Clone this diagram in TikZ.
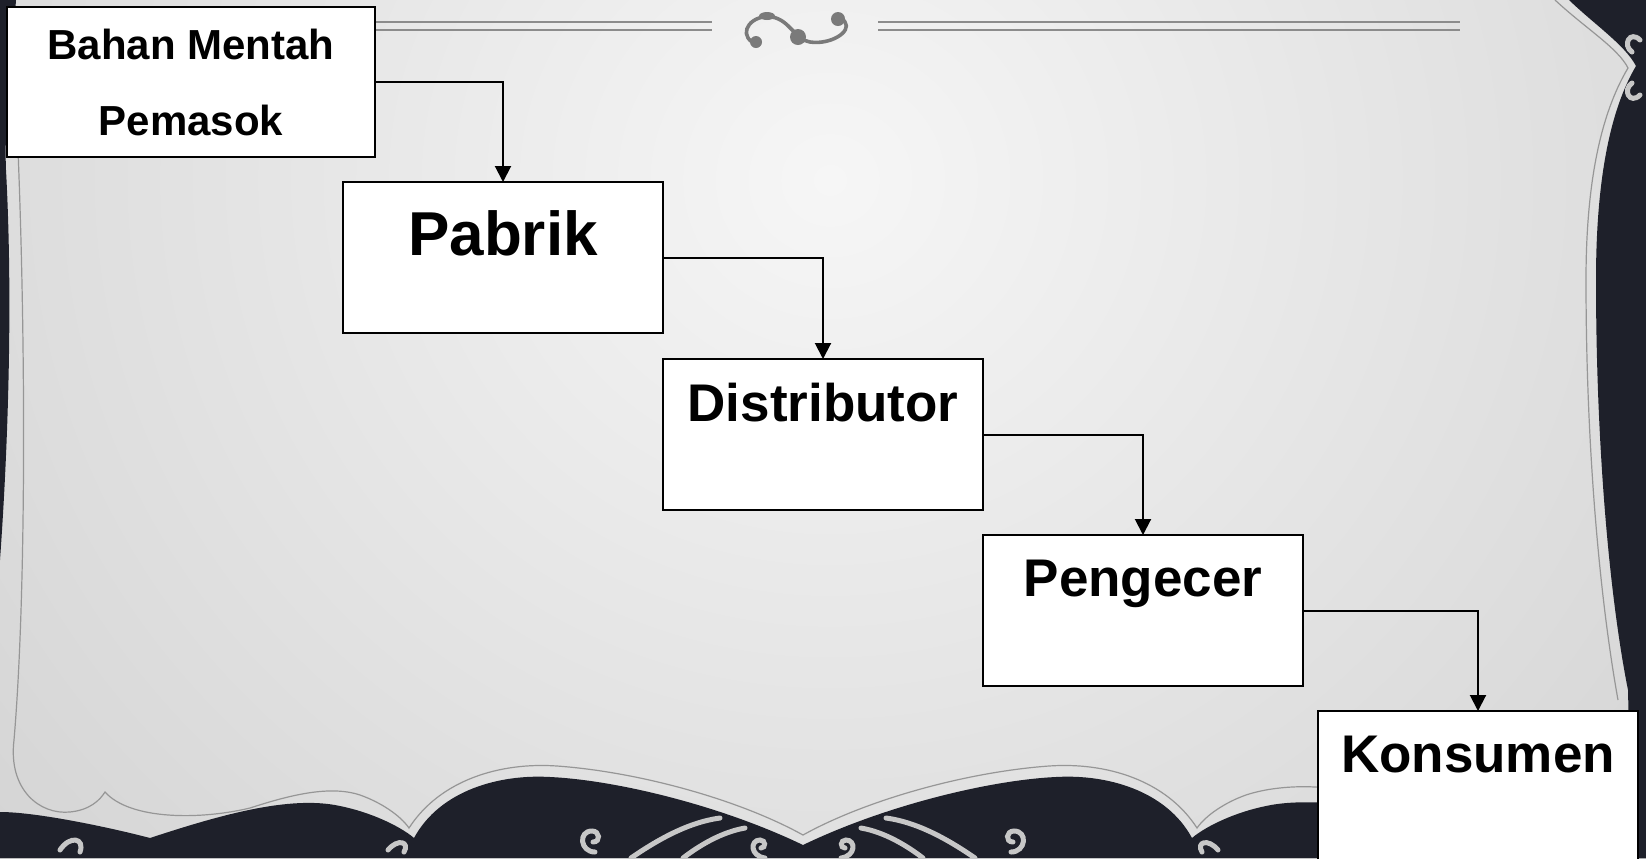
\documentclass[tikz,border=0pt]{standalone}
\usepackage{fontspec}
\setmainfont{Liberation Sans}
\usetikzlibrary{positioning}
\usetikzlibrary{arrows.meta}
\definecolor{framedark}{RGB}{30,32,42}
\definecolor{framegray}{RGB}{150,150,150}
\definecolor{bglight}{RGB}{246,246,246}
\definecolor{bgdark}{RGB}{194,194,194}
\tikzstyle{chainbox} = [draw=black, fill=white, line width=1.25pt, outer sep=0pt,
inner sep=0pt, minimum width=160pt, minimum height=75.5pt, align=center,
text depth=0pt, font={\bfseries\fontsize{26.5}{31.8}\selectfont}]
\tikzstyle{chainflow} = [line width=1pt, -{Triangle[width=8pt,length=8pt]}]
\tikzstyle{frameline} = [draw=framegray, line width=0.6pt]
\tikzstyle{frameorn} = [draw=white!78!black, line width=2.5pt, line cap=round]
\tikzstyle{topline} = [draw=black!45, line width=0.6pt]
\tikzstyle{topcurl} = [draw=black!52, line width=1.8pt, line cap=round]

\begin{document}
\begin{tikzpicture}[x=0.5pt, y=-0.5pt]
  \useasboundingbox (0,0) rectangle (1646,858);
  \begin{scope}
    \clip (0,0) rectangle (1646,858);
    \fill[bgdark] (0,0) rectangle (1646,858);
    \shade[inner color=bglight, outer color=bgdark] (830,180) ellipse [x radius=1700, y radius=1600];
  \end{scope}

  \fill[framedark] (0,0) -- (16,0) .. controls (12,60) and (4,120) .. (6,170)
    .. controls (12,280) and (10,420) .. (0,560) -- cycle;
  \fill[framedark] (1646,0) -- (1569,0) .. controls (1595,25) and (1625,45) .. (1636,66)
    .. controls (1610,110) and (1596,180) .. (1596,280)
    .. controls (1596,450) and (1610,600) .. (1628,690) -- (1632,858) -- (1646,858) -- cycle;
  \fill[framedark] (0,858) -- (0,812) .. controls (40,812) and (120,830) .. (150,838)
    .. controls (220,815) and (290,795) .. (340,806) .. controls (370,812) and (400,826) .. (414,838)
    .. controls (440,790) and (500,774) .. (550,777) .. controls (615,780) and (720,805) .. (803,845)
    .. controls (886,805) and (991,780) .. (1056,777) .. controls (1106,774) and (1166,790) .. (1192,838)
    .. controls (1206,826) and (1236,812) .. (1266,806) .. controls (1316,795) and (1400,810) .. (1460,830)
    -- (1646,830) -- (1646,858) -- cycle;
  \draw[frameline] (18,150) .. controls (26,350) and (26,600) .. (14,740)
    .. controls (8,790) and (40,815) .. (70,812) .. controls (90,810) and (100,800) .. (105,792)
    .. controls (130,820) and (200,820) .. (250,808) .. controls (290,795) and (330,785) .. (360,795)
    .. controls (380,802) and (400,815) .. (409,828) .. controls (440,780) and (500,762) .. (557,766)
    .. controls (640,772) and (740,800) .. (803,835) .. controls (866,800) and (966,772) .. (1049,766)
    .. controls (1106,762) and (1166,780) .. (1197,828) .. controls (1206,815) and (1226,802) .. (1246,795)
    .. controls (1276,785) and (1316,785) .. (1340,790);
  \draw[frameline] (1555,0) .. controls (1585,28) and (1618,48) .. (1628,68)
    .. controls (1600,115) and (1586,185) .. (1586,280)
    .. controls (1586,450) and (1600,600) .. (1618,700);
  \draw[frameorn] (631,858) .. controls (660,838) and (690,822) .. (720,818);
  \draw[frameorn] (683,858) .. controls (700,845) and (722,832) .. (745,828);
  \draw[frameorn] (975,858) .. controls (946,838) and (916,822) .. (886,818);
  \draw[frameorn] (923,858) .. controls (906,845) and (884,832) .. (861,828);
  \draw[frameorn] (595,852) .. controls (580,852) and (578,831) .. (592,831) .. controls (600,831) and (601,842) .. (593,842);
  \draw[frameorn] (1011,852) .. controls (1026,852) and (1028,831) .. (1014,831) .. controls (1006,831) and (1005,842) .. (1013,842);
  \draw[frameorn] (765,858) .. controls (750,856) and (750,840) .. (760,840) .. controls (766,840) and (766,848) .. (761,848);
  \draw[frameorn] (841,858) .. controls (856,856) and (856,840) .. (846,840) .. controls (840,840) and (840,848) .. (845,848);
  \draw[frameorn] (388,850) .. controls (398,838) and (410,842) .. (404,852);
  \draw[frameorn] (1218,850) .. controls (1208,838) and (1196,842) .. (1202,852);
  \draw[frameorn] (60,850) .. controls (70,835) and (85,838) .. (80,852);
  \draw[frameorn] (1640,40) .. controls (1630,30) and (1622,45) .. (1632,52);
  \draw[frameorn] (1640,95) .. controls (1630,105) and (1622,90) .. (1632,83);

  \draw[topline] (375,22) -- (712,22) (375,30) -- (712,30);
  \draw[topline] (878,22) -- (1460,22) (878,30) -- (1460,30);
  \draw[topcurl] (772,17) .. controls (752,14) and (738,32) .. (752,42);
  \draw[topcurl] (772,17) .. controls (790,20) and (795,40) .. (810,42)
    .. controls (830,45) and (852,32) .. (845,22) .. controls (842,17) and (838,16) .. (836,18);
  \fill[black!52] (756,42) circle[radius=3pt] (838,19) circle[radius=3.5pt]
    (798,37) circle[radius=4pt] (767,16) ellipse[x radius=8, y radius=4];

  \node[chainbox, minimum width=184pt, minimum height=75pt,
    font={\bfseries\fontsize{21}{38}\selectfont}] (bahan) at (191,82) {Bahan Mentah\\Pemasok};
  \node[chainbox, font={\bfseries\fontsize{31}{24.6}\selectfont},
    below right=12.5pt and -16pt of bahan] (pabrik) {Pabrik\\~};
  \node[chainbox, below right=13pt and 0pt of pabrik] (distributor) {Distributor\\~};
  \node[chainbox, below right=12.5pt and 0pt of distributor] (pengecer) {Pengecer\\~};
  \node[chainbox, below right=12.5pt and 7.5pt of pengecer] (konsumen) {Konsumen\\~};

  \draw[chainflow] (bahan.east) -| (pabrik.north);
  \draw[chainflow] (pabrik.east) -| (distributor.north);
  \draw[chainflow] (distributor.east) -| (pengecer.north);
  \draw[chainflow] (pengecer.east) -| (konsumen.north);
\end{tikzpicture}
\end{document}
